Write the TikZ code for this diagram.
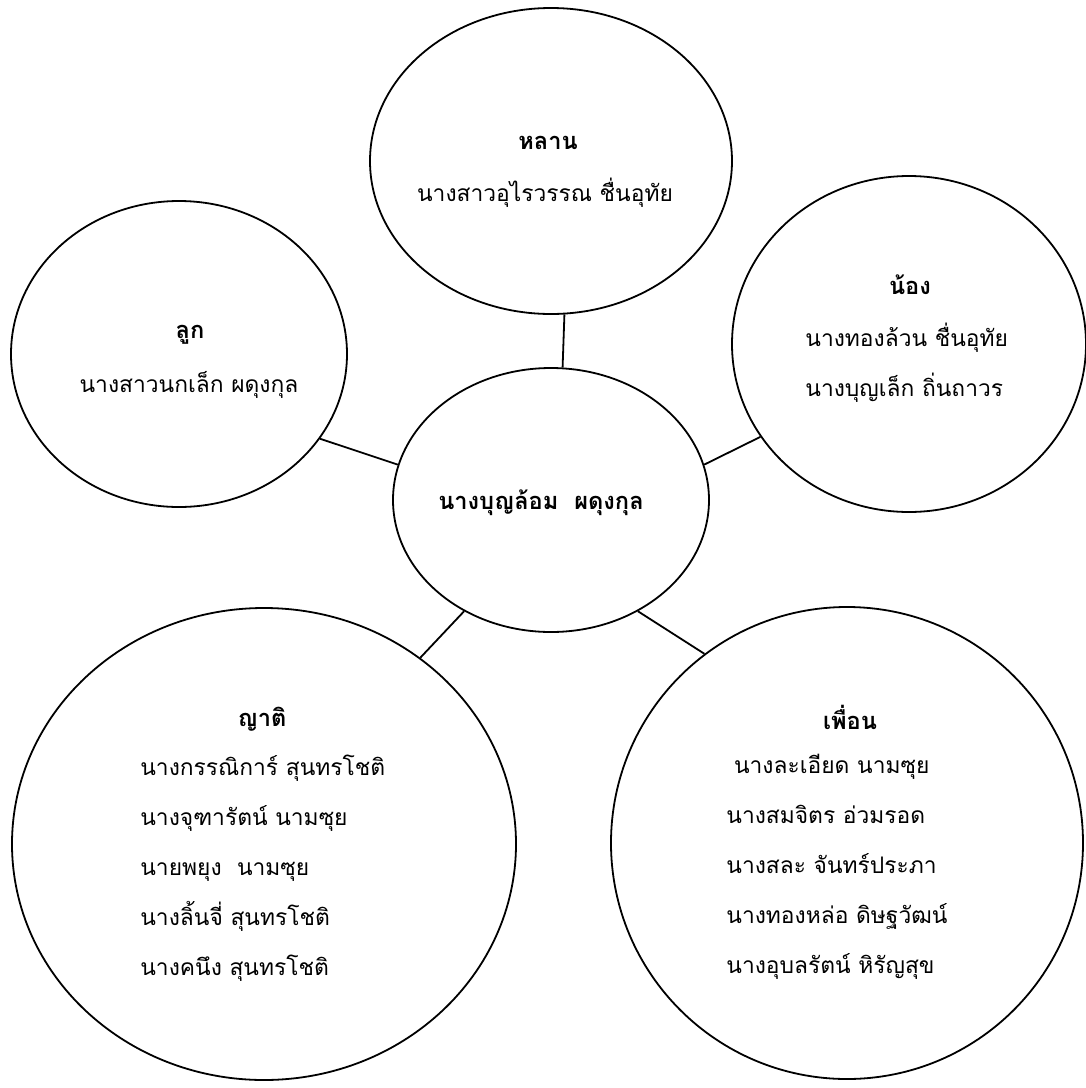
\documentclass[tikz,border=0pt]{standalone}
\usepackage{fontspec}
\newfontfamily\thaifont[Script=Thai]{Loma}
\usetikzlibrary{shapes.geometric}

\tikzset{
  bubble/.style={draw, ellipse, line width=0.9pt, inner sep=0pt},
  link/.style={line width=0.9pt},
  heading/.style={font=\thaifont\bfseries\fontsize{11.8}{13}\selectfont},
  members/.style={font=\thaifont\fontsize{11.4}{25}\selectfont, align=left, inner sep=0pt}
}

\begin{document}
\begin{tikzpicture}[x=0.5pt, y=-0.5pt]
  \useasboundingbox (0,0) rectangle (1086,1088);

  % circles
  \node[bubble, minimum width=181pt, minimum height=153pt] (lan) at (551,161) {};
  \node[bubble, minimum width=168pt, minimum height=153pt] (luk) at (179,354) {};
  \node[bubble, minimum width=177pt, minimum height=168pt] (nong) at (909,344) {};
  \node[bubble, minimum width=158pt, minimum height=132pt] (self) at (551,500) {};
  \node[bubble, minimum width=252pt, minimum height=236pt] (yati) at (264,844) {};
  \node[bubble, minimum width=236pt, minimum height=236pt] (phuean) at (847,843) {};

  % links to the middle
  \draw[link] (lan.-85) -- (self.85);
  \draw[link] (luk.-31) -- (self.167);
  \draw[link] (nong.-148) -- (self.13);
  \draw[link] (self.-128) -- (yati.50);
  \draw[link] (self.-52) -- (phuean.127);

  % texts
  \node[heading] (lanT) at (548,143) {หลาน};
  \node[members] (lanN) at (545,193) {นางสาวอุไรวรรณ ชื่นอุทัย};

  \node[heading] (lukT) at (190,335) {ลูก};
  \node[members] (lukN) at (189,385) {นางสาวนกเล็ก ผดุงกุล};

  \node[heading] (nongT) at (910,285) {น้อง};
  \node[members, anchor=west] (nongN) at (805,363)
  {นางทองล้วน ชื่นอุทัย\\นางบุญเล็ก ถิ่นถาวร};

  \node[heading] (selfT) at (541,503) {นางบุญล้อม~~ผดุงกุล};

  \node[heading] (yatiT) at (262,719) {ญาติ};
  \node[members, anchor=west] (yatiN) at (140,868)
  {นางกรรณิการ์ สุนทรโชติ\\นางจุฑารัตน์ นามซุย\\นายพยุง~~นามซุย\\นางลิ้นจี่ สุนทรโชติ\\นางคนึง สุนทรโชติ};

  \node[heading] (phueanT) at (850,717) {เพื่อน};
  \node[members, anchor=west] (phueanN) at (726,867)
  {~นางละเอียด นามซุย\\นางสมจิตร อ่วมรอด\\นางสละ จันทร์ประภา\\นางทองหล่อ ดิษฐวัฒน์\\นางอุบลรัตน์ หิรัญสุข};

\end{tikzpicture}
\end{document}
